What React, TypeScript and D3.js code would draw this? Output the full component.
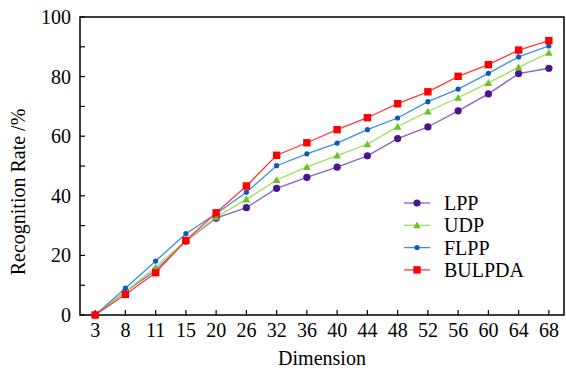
import React from "react";
import * as d3 from "d3";

const categories = ["3","8","11","15","20","26","32","36","40","44","48","52","56","60","64","68"];
const lppValues = [0, 7.8, 15, 24.8, 32.5, 36, 42.5, 46.2, 49.6, 53.4, 59.2, 63.1, 68.5, 74.2, 81, 82.8];
const udpValues = [0, 7.8, 16, 25, 32.8, 38.8, 45.3, 49.7, 53.5, 57.3, 63.2, 68.3, 72.9, 77.9, 83.1, 88];
const flppValues = [0, 9, 18.1, 27.3, 34, 41.2, 50.1, 54.1, 57.7, 62.2, 66.1, 71.6, 75.8, 81.1, 86.6, 90.3];
const bulpdaValues = [0, 6.9, 14.2, 25, 34.3, 43.3, 53.6, 57.8, 62.2, 66.2, 70.9, 74.9, 80.1, 84, 88.9, 92.1];
const yTicks = [0, 20, 40, 60, 80, 100];
const yMinorTicks = [10, 30, 50, 70, 90];

const seriesNames = ["LPP", "UDP", "FLPP", "BULPDA"];

const W = 566, H = 368;
const left = 80, right = 564, top = 17, bottom = 315;
const font = "'Liberation Serif', 'Times New Roman', serif";
const fs = 20;

export default function App() {
  const x = d3.scalePoint<string>().domain(categories).range([left, right]).padding(0.5);
  const y = d3.scaleLinear().domain([0, 100]).range([bottom, top]);
  const series = [
    { name: seriesNames[0], values: lppValues, line: "#8b5fc6", mark: "#4a148c", shape: "circle" },
    { name: seriesNames[1], values: udpValues, line: "#9be05a", mark: "#6cc02c", shape: "triangle" },
    { name: seriesNames[2], values: flppValues, line: "#3b8fe0", mark: "#1256c0", shape: "dot" },
    { name: seriesNames[3], values: bulpdaValues, line: "#ff3b3b", mark: "#ff0000", shape: "square" },
  ];
  const lineGen = d3.line<number>().x((_, i) => x(categories[i])!).y((v) => y(v));

  const marker = (shape: string, color: string, cx: number, cy: number, key: any) => {
    if (shape === "circle") return <circle key={key} cx={cx} cy={cy} r={3.6} fill={color} />;
    if (shape === "dot") return <circle key={key} cx={cx} cy={cy} r={2.6} fill={color} />;
    if (shape === "square") return <rect key={key} x={cx - 3.7} y={cy - 3.7} width={7.4} height={7.4} fill={color} />;
    const s = 3.8;
    return <path key={key} d={`M${cx},${cy - s}L${cx + s},${cy + s * 0.8}L${cx - s},${cy + s * 0.8}Z`} fill={color} />;
  };

  return (
    <svg width={W} height={H} style={{ display: "block", position: "absolute", left: 0, top: 0, background: "#fff" }}>
      <rect x={0} y={0} width={W} height={H} fill="#fff" />
      <rect x={left} y={top} width={right - left} height={bottom - top} fill="none" stroke="#000" strokeWidth={1.5} />
      {yTicks.map((t) => (
        <g key={"y" + t}>
          <line x1={left} x2={left + 5} y1={y(t)} y2={y(t)} stroke="#000" strokeWidth={1.2} />
          <text x={left - 9} y={y(t)} dy="0.35em" textAnchor="end" fontFamily={font} fontSize={fs} fill="#000">{t}</text>
        </g>
      ))}
      {yMinorTicks.map((t) => (
        <line key={"ym" + t} x1={left} x2={left + 5} y1={y(t)} y2={y(t)} stroke="#000" strokeWidth={1.2} />
      ))}
      {categories.map((c) => (
        <g key={"x" + c}>
          <line x1={x(c)!} x2={x(c)!} y1={bottom} y2={bottom - 5} stroke="#000" strokeWidth={1.2} />
          <text x={x(c)!} y={bottom + 22} textAnchor="middle" fontFamily={font} fontSize={fs} fill="#000">{c}</text>
        </g>
      ))}
      {series.map((s) => (
        <g key={s.name}>
          <path d={lineGen(s.values)!} fill="none" stroke={s.line} strokeWidth={1.3} />
          {s.values.map((v, i) => marker(s.shape, s.mark, x(categories[i])!, y(v), i))}
        </g>
      ))}
      {series.map((s, i) => {
        const ly = 203 + i * 22.3;
        return (
          <g key={"lg" + s.name}>
            <line x1={404} x2={430} y1={ly} y2={ly} stroke={s.line} strokeWidth={1.3} />
            {marker(s.shape, s.mark, 417, ly, "m")}
            <text x={444} y={ly} dy="0.35em" fontFamily={font} fontSize={fs} fill="#000">{s.name}</text>
          </g>
        );
      })}
      <text x={(left + right) / 2} y={365} textAnchor="middle" fontFamily={font} fontSize={fs} fill="#000">Dimension</text>
      <text transform={`translate(25, 192) rotate(-90)`} textAnchor="middle" fontFamily={font} fontSize={fs} fill="#000">Recognition Rate /%</text>
    </svg>
  );
}
